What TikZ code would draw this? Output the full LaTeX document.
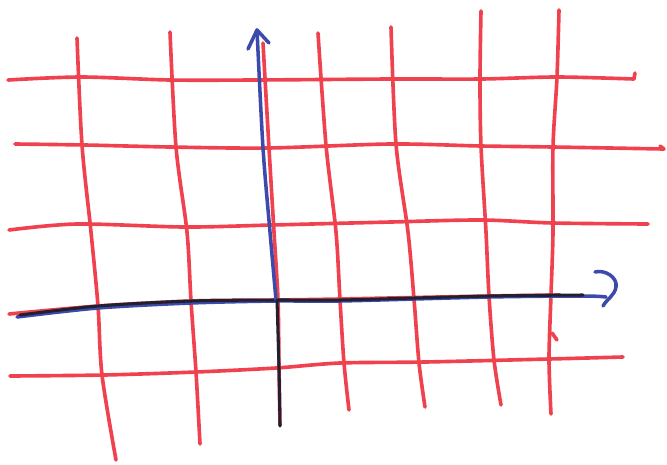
\documentclass[tikz,border=0pt]{standalone}
\usetikzlibrary{arrows.meta}
\definecolor{penred}{RGB}{240,66,78}
\definecolor{penblue}{RGB}{60,74,172}
\definecolor{penblack}{RGB}{32,32,48}
\tikzset{
  gridline/.style={draw=penred, line width=3.1pt, line cap=round, line join=round},
  bluepen/.style={draw=penblue, line width=3pt, line cap=round, line join=round},
  blackpen/.style={draw=penblack, line width=2.6pt, line cap=round, line join=round},
}

\begin{document}
\begin{tikzpicture}[x=0.03cm, y=-0.03cm]
\useasboundingbox (0,0) rectangle (667,464);

% Horizontal grid lines
\draw[gridline] plot[smooth, tension=0.5] coordinates {(8,80) (81,77) (170,80) (255,80) (391,79) (481,79) (557,77) (634,79)} -- (635,73);
\draw[gridline] plot[smooth, tension=0.5] coordinates {(15,144) (85,145) (170,147) (268,148) (391,144) (481,146) (553,147) (664,149)} -- (660,146);
\draw[gridline] plot[smooth, tension=0.5] coordinates {(9,230) (77,224) (185,227) (272,225) (391,222) (481,220) (553,223) (648,224)};
\draw[gridline] plot[smooth, tension=0.5] coordinates {(9,314) (98,306) (191,301) (276,300) (340,299) (489,296) (560,295)};
\draw[gridline] plot[smooth, tension=0.5] coordinates {(10,376) (104,375) (196,372) (276,368) (340,363) (425,362) (549,359) (623,357)};

% Vertical grid lines
\draw[gridline] plot[smooth, tension=0.5] coordinates {(77,38) (82,145) (91,232) (98,306) (102,375) (116,460)};
\draw[gridline] plot[smooth, tension=0.5] coordinates {(170,32) (176,147) (187,232) (191,301) (196,372) (200,444)};
\draw[gridline] plot[smooth, tension=0.5] coordinates {(263,43) (269,148) (274,232) (278,300) (279,368) (280,425)};
\draw[gridline] plot[smooth, tension=0.5] coordinates {(318,33) (326,145) (336,232) (340,300) (344,363) (349,410)};
\draw[gridline] plot[smooth, tension=0.5] coordinates {(391,27) (396,144) (408,232) (414,299) (419,363) (425,407)};
\draw[gridline] plot[smooth, tension=0.5] coordinates {(481,11) (480,79) (481,146) (486,232) (489,296) (494,360) (501,405)};
\draw[gridline] plot[smooth, tension=0.5] coordinates {(559,10) (557,77) (553,147) (553,232) (551,295) (549,359) (551,414)};
\draw[gridline] (552,333) -- (557,340);

% x axis
\draw[bluepen] plot[smooth, tension=0.5] coordinates {(17,317) (98,308) (191,303) (276,301) (340,301) (489,297) (583,296) (606,297)};
\draw[blackpen] plot[smooth, tension=0.5] coordinates {(20,315) (98,306) (191,301) (276,300) (340,300) (489,296) (583,295)};
\draw[bluepen] (595,272) to[out=15, in=80] (616,287) to[out=-100, in=60] (603,306);

% y axis
\draw[bluepen] plot[smooth, tension=0.5] coordinates {(257,30) (263,148) (270,232) (276,300)};
\draw[blackpen] plot[smooth, tension=0.5] coordinates {(277,300) (279,368) (280,426)};
\draw[bluepen] (248,49) -- (257,30) -- (269,43);

\end{tikzpicture}
\end{document}
